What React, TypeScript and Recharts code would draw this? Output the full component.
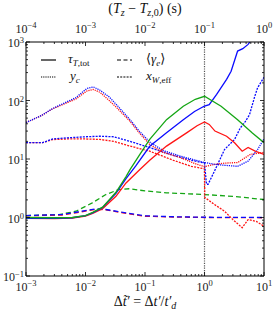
import React from "react";
import { LineChart, Line, XAxis, YAxis, ReferenceLine } from "recharts";

const BLUE = "#0b0bff";
const RED = "#ff1414";
const GREEN = "#15a615";

// plot box in pixels (styling only)
const L = 26;
const R = 264;
const T = 42;
const B = 276;
const FONT = "'Liberation Serif', 'DejaVu Serif', serif";

type Pt = { x: number; y: number };
const pts = (a: number[][]): Pt[] => a.map(([x, y]) => ({ x, y }));

// tau_T,tot (solid)
const greenTau = pts([
  [0.001, 1.0], [0.003, 0.99], [0.006, 1.0], [0.01, 1.08], [0.0132, 1.22], [0.0194, 1.5],
  [0.0325, 2.7], [0.048, 5.0], [0.056, 6.6], [0.08, 11.5], [0.12, 21.6], [0.23, 47],
  [0.44, 80], [0.7, 105], [1, 118], [1.9, 80], [3.6, 47], [6.3, 28], [10, 19],
]);
const blueTau = pts([
  [0.001, 0.97], [0.003, 0.97], [0.006, 0.99], [0.01, 1.08], [0.0132, 1.2], [0.0194, 1.48],
  [0.0325, 2.6], [0.048, 4.6], [0.07, 7.6], [0.12, 16.5], [0.23, 28], [0.44, 47], [0.68, 65],
  [0.9, 76], [1, 80], [1.2, 85], [1.6, 127], [2.35, 230], [2.8, 316], [3.6, 700], [4.4, 770],
  [5.4, 910], [6.2, 1100], [8, 1800],
]);
const redTau = pts([
  [0.001, 0.97], [0.003, 0.96], [0.006, 0.98], [0.01, 1.06], [0.0132, 1.18], [0.0194, 1.42],
  [0.0325, 2.3], [0.048, 3.9], [0.082, 6.6], [0.12, 9.5], [0.23, 16.6], [0.5, 28], [0.75, 37],
  [1, 43], [1.2, 39], [1.5, 30], [2.35, 24.5], [3.2, 19], [4.3, 13.6], [5.4, 15.7], [7.1, 13.6],
  [10, 12],
]);

// <gamma_e> (dashed)
const greenGamma = pts([
  [0.001, 1.08], [0.0036, 1.12], [0.0069, 1.28], [0.013, 1.78], [0.022, 2.47], [0.036, 3.0],
  [0.054, 3.1], [0.1, 2.85], [0.23, 2.64], [1, 2.47], [3, 2.3], [10, 2.03],
]);
const blueGamma = pts([
  [0.001, 1.08], [0.004, 1.12], [0.0069, 1.23], [0.015, 1.41], [0.022, 1.37], [0.048, 1.2],
  [0.1, 1.07], [0.3, 1.03], [1, 1.01], [10, 1.0],
]);
const redGamma = pts([
  [0.001, 1.07], [0.004, 1.1], [0.0069, 1.2], [0.015, 1.38], [0.022, 1.35], [0.048, 1.18],
  [0.1, 1.05], [0.3, 1.02], [1, 1.0], [10, 0.99],
]);

// y_c (dotted)
const blueYc = pts([
  [0.001, 42], [0.0018, 55], [0.0028, 73], [0.0069, 112], [0.0105, 160], [0.0135, 171],
  [0.0175, 150], [0.025, 115], [0.035, 80], [0.056, 47], [0.08, 30], [0.12, 19.5], [0.2, 14],
  [0.39, 11.2], [0.7, 9.6], [1, 8.7], [1.5, 8.1], [2.2, 7.8], [3.6, 7.5], [5.4, 9.2],
  [7.8, 14.5], [10, 22],
]);
const redYc = pts([
  [0.001, 42], [0.0018, 55], [0.0028, 72], [0.0069, 106], [0.0105, 145], [0.0135, 155],
  [0.0175, 138], [0.025, 100], [0.035, 72], [0.056, 44], [0.08, 28], [0.12, 17.7], [0.2, 13],
  [0.39, 10.6], [0.7, 8.3], [1, 7.4], [1.5, 8.1], [2.2, 8.5], [3.6, 8.7], [5.9, 12], [10, 13],
]);

// x_W,eff (fine dashes)
const blueXw = pts([
  [0.001, 19], [0.0019, 19], [0.0028, 22], [0.005, 23], [0.01, 24], [0.0175, 24.5], [0.03, 24],
  [0.056, 20], [0.12, 15.7], [0.3, 11.5], [0.6, 9.5], [1, 8.5], [1.08, 3.7], [1.15, 3.7],
  [1.47, 6.2], [2.17, 14.5], [3.2, 21.6], [4.0, 34], [4.7, 41.5], [5.7, 57], [7.0, 118],
  [7.8, 165], [10, 250],
]);
const redXw = pts([
  [0.001, 19], [0.0019, 19], [0.0028, 21.5], [0.005, 22], [0.01, 22], [0.0175, 21.6], [0.03, 20],
  [0.056, 16.6], [0.12, 13.6], [0.3, 9.5], [0.6, 7.5], [1, 6.8], [1.01, 2.2], [1.47, 1.67],
  [2.17, 1.28], [3.0, 0.92], [4.3, 0.67], [5.4, 0.92], [7.4, 0.86], [10, 0.71],
]);

// top axis range, (T_z - T_z,0) in s
const topRange = pts([[0.0001, 1], [1, 1]]);

function logTicks(lo: number, hi: number) {
  const out: number[] = [];
  for (let e = lo; e < hi; e++) for (let m = 1; m < 10; m++) out.push(m * Math.pow(10, e));
  out.push(Math.pow(10, hi));
  return out;
}
const xTicks = logTicks(-3, 1);
const xTopTicks = logTicks(-4, 0);
const yTicks = logTicks(-1, 3);

const isMajor = (v: number) => Math.abs(Math.log10(v) - Math.round(Math.log10(v))) < 1e-6;
const expOf = (v: number) => {
  const e = Math.round(Math.log10(v));
  return e < 0 ? "\u2212" + Math.abs(e) : String(e);
};

function Pow({ x, y, v, anchor, up = 5 }: { x: number; y: number; v: number; anchor: string; up?: number }) {
  return (
    <text x={x} y={y} textAnchor={anchor as any} fontFamily={FONT} fontSize={12} fill="#222">
      10
      <tspan dy={-up} fontSize={8.5}>{expOf(v)}</tspan>
    </text>
  );
}

const BottomTick = (p: any) => {
  const v = p.payload.value;
  const major = isMajor(v);
  return (
    <g>
      <line x1={p.x} x2={p.x} y1={B} y2={B - (major ? 4 : 2)} stroke="#000" strokeWidth={0.8} />
      {major && <Pow x={p.x} y={B + 15} v={v} anchor="middle" />}
    </g>
  );
};

const TopTick = (p: any) => {
  const v = p.payload.value;
  const major = isMajor(v);
  return (
    <g>
      <line x1={p.x} x2={p.x} y1={T} y2={T + (major ? 4 : 2)} stroke="#000" strokeWidth={0.8} />
      {major && <Pow x={p.x} y={T - 9} v={v} anchor="middle" />}
    </g>
  );
};

const LeftTick = (p: any) => {
  const v = p.payload.value;
  const major = isMajor(v);
  return (
    <g>
      <line x1={L} x2={L + (major ? 4 : 2)} y1={p.y} y2={p.y} stroke="#000" strokeWidth={0.8} />
      {major && <Pow x={L - 2} y={p.y + 5} v={v} anchor="end" up={4} />}
    </g>
  );
};

const RightTick = (p: any) => {
  const major = isMajor(p.payload.value);
  return <line x1={R} x2={R - (major ? 4 : 2)} y1={p.y} y2={p.y} stroke="#000" strokeWidth={0.8} />;
};

const mathText: React.CSSProperties = {
  position: "absolute",
  fontFamily: FONT,
  fontSize: 13,
  color: "#111",
  whiteSpace: "nowrap",
  lineHeight: "13px",
};
const sub: React.CSSProperties = { fontSize: 9, verticalAlign: "-3px", fontStyle: "normal" };
const title: React.CSSProperties = { ...mathText, fontSize: 14, lineHeight: "14px" };
const subT: React.CSSProperties = { fontSize: 10, verticalAlign: "-3px", fontStyle: "normal" };

function Sample({ x, y, dash }: { x: number; y: number; dash?: string }) {
  return (
    <svg style={{ position: "absolute", left: x, top: y - 2, overflow: "visible" }} width={15} height={4}>
      <line x1={0} x2={15} y1={2} y2={2} stroke="#000" strokeWidth={1.2} strokeDasharray={dash} />
    </svg>
  );
}

export default function App() {
  const common = { xAxisId: "bottom", yAxisId: "left", dataKey: "y", dot: false, isAnimationActive: false, strokeWidth: 1.3 } as const;
  return (
    <div style={{ position: "absolute", left: 0, top: 0, width: 274, height: 315, background: "#fff" }}>
      <LineChart width={274} height={315} margin={{ top: 12, right: 0, bottom: 9, left: 0 }}>
        <XAxis
          xAxisId="bottom"
          type="number"
          dataKey="x"
          scale="log"
          domain={[0.001, 10]}
          allowDataOverflow
          ticks={xTicks}
          interval={0}
          tick={BottomTick}
          tickLine={false}
          height={30}
          axisLine={{ stroke: "#000", strokeWidth: 1 }}
        />
        <XAxis
          xAxisId="top"
          orientation="top"
          type="number"
          dataKey="x"
          scale="log"
          domain={[0.0001, 1]}
          allowDataOverflow
          ticks={xTopTicks}
          interval={0}
          tick={TopTick}
          tickLine={false}
          height={30}
          axisLine={{ stroke: "#000", strokeWidth: 1 }}
        />
        <YAxis
          yAxisId="left"
          type="number"
          scale="log"
          domain={[0.1, 1000]}
          allowDataOverflow
          ticks={yTicks}
          interval={0}
          tick={LeftTick}
          tickLine={false}
          width={26}
          axisLine={{ stroke: "#000", strokeWidth: 1 }}
        />
        <YAxis
          yAxisId="right"
          orientation="right"
          type="number"
          scale="log"
          domain={[0.1, 1000]}
          allowDataOverflow
          ticks={yTicks}
          interval={0}
          tick={RightTick}
          tickLine={false}
          width={10}
          axisLine={{ stroke: "#000", strokeWidth: 1 }}
        />
        <ReferenceLine xAxisId="bottom" yAxisId="left" x={1} stroke="#555" strokeWidth={1.2} strokeDasharray="1.2 1.2" />

        <Line xAxisId="top" yAxisId="right" dataKey="y" data={topRange} stroke="none" dot={false} isAnimationActive={false} legendType="none" />

        <Line {...common} data={greenGamma} stroke={GREEN} strokeDasharray="5 3" />
        <Line {...common} data={redGamma} stroke={RED} strokeDasharray="5 3" />
        <Line {...common} data={blueGamma} stroke={BLUE} strokeDasharray="5 3" />

        <Line {...common} data={redXw} stroke={RED} strokeDasharray="2 1.2" />
        <Line {...common} data={blueXw} stroke={BLUE} strokeDasharray="2 1.2" />

        <Line {...common} data={redYc} stroke={RED} strokeDasharray="1.2 1" />
        <Line {...common} data={blueYc} stroke={BLUE} strokeDasharray="1.2 1" />

        <Line {...common} data={redTau} stroke={RED} />
        <Line {...common} data={blueTau} stroke={BLUE} />
        <Line {...common} data={greenTau} stroke={GREEN} />
      </LineChart>

      <div style={{ ...title, left: 0, width: 290, top: 2, textAlign: "center" }}>
        (<i>T</i><span style={subT}><i>z</i></span> − <i>T</i><span style={subT}><i>z</i>,0</span>) (s)
      </div>
      <div style={{ ...title, left: 0, width: 290, top: 295, textAlign: "center" }}>
        Δ<i>t̃′</i> = Δ<i>t′</i>/<i>t′</i><span style={subT}><i>d</i></span>
      </div>

      <Sample x={41} y={60} />
      <Sample x={117} y={60} dash="4 2.5" />
      <Sample x={41} y={77} dash="1.2 1" />
      <Sample x={117} y={77} dash="2 1.2" />

      <div style={{ ...mathText, left: 68, top: 52 }}>
        <i>τ</i><span style={sub}><i>T</i>,tot</span>
      </div>
      <div style={{ ...mathText, left: 146, top: 52 }}>
        ⟨<i>γ</i><span style={sub}><i>e</i></span>⟩
      </div>
      <div style={{ ...mathText, left: 70, top: 69 }}>
        <i>y</i><span style={sub}><i>c</i></span>
      </div>
      <div style={{ ...mathText, left: 146, top: 69 }}>
        <i>x</i><span style={sub}><i>W</i>,eff</span>
      </div>
    </div>
  );
}
